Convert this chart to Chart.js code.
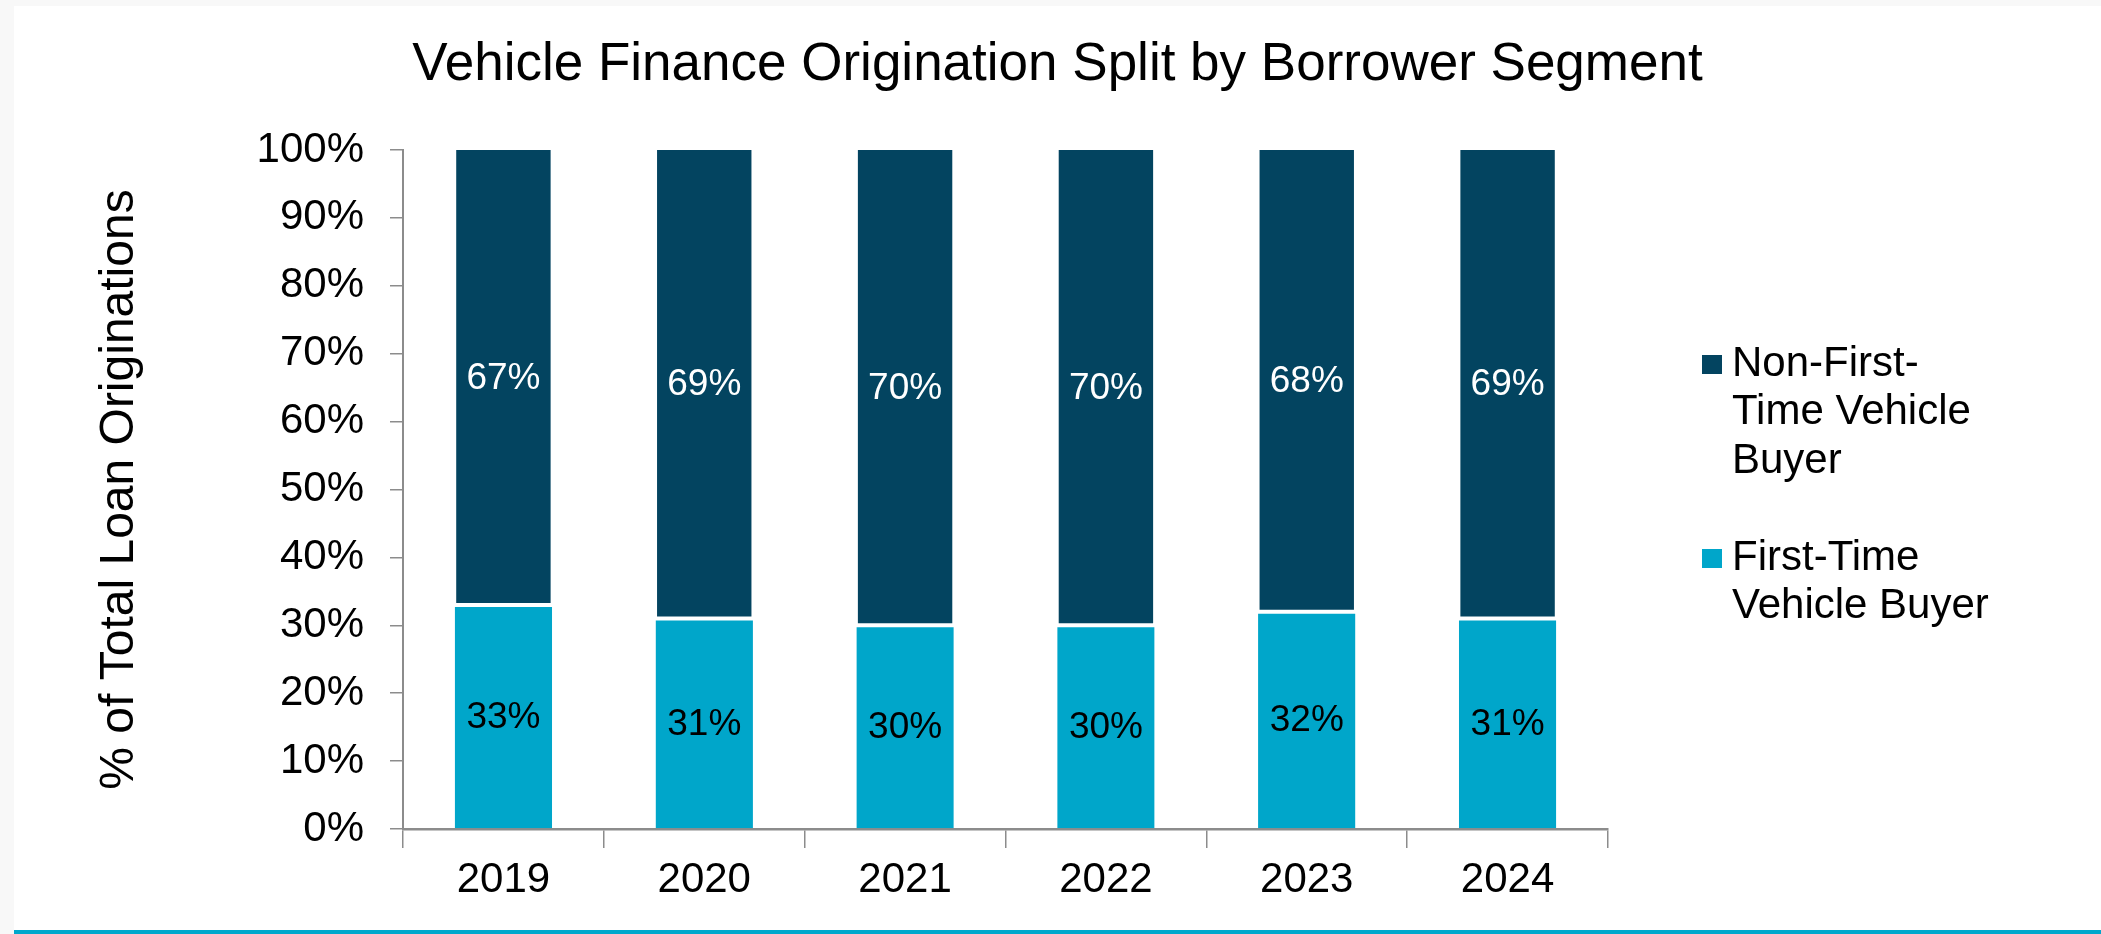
<!DOCTYPE html>
<html>
<head>
<meta charset="utf-8">
<script src="https://cdn.jsdelivr.net/npm/chart.js@4.4.1/dist/chart.umd.min.js"></script>
<style>
  html, body { margin: 0; padding: 0; background: #fff; }
  #page { position: relative; width: 2101px; height: 934px; background: #f8f8f8; overflow: hidden; }
  #panel { position: absolute; left: 14px; top: 6px; width: 2087px; height: 924px; background: #fff; }
  #rule { position: absolute; left: 14px; top: 930px; width: 2087px; height: 4px; background: #00a8cc; }
  canvas { display: block; }
</style>
</head>
<body>
<div id="page">
  <div id="panel"><canvas id="split" width="2087" height="924"></canvas></div>
  <div id="rule"></div>
</div>
<script>
const years = ['2019', '2020', '2021', '2022', '2023', '2024'];
const firstTime = [33, 31, 30, 30, 32, 31];
const nonFirstTime = [67, 69, 70, 70, 68, 69];
const firstTimeName = ['First-Time', 'Vehicle Buyer'];
const nonFirstTimeName = ['Non-First-', 'Time Vehicle', 'Buyer'];
const percentTicks = [0, 10, 20, 30, 40, 50, 60, 70, 80, 90, 100];

const FONT = "'Liberation Sans', Arial, sans-serif";
const AXIS_GREY = '#8c8c8c';
const LEGEND_W = 493;

Chart.defaults.font.family = FONT;
Chart.defaults.color = '#000';

// value labels in the middle of every bar segment
const segmentLabels = {
  id: 'segmentLabels',
  afterDatasetsDraw(chart) {
    const ctx = chart.ctx;
    ctx.save();
    ctx.font = '37px ' + FONT;
    ctx.textAlign = 'center';
    ctx.textBaseline = 'middle';
    chart.data.datasets.forEach((ds, i) => {
      chart.getDatasetMeta(i).data.forEach((bar, j) => {
        ctx.fillStyle = ds.labelColor;
        ctx.fillText(ds.data[j] + '%', bar.x, (bar.y + bar.base) / 2 + 1);
      });
    });
    ctx.restore();
  }
};

// legend on the right, as its own layout box so the title still spans the full width
const sideLegend = {
  id: 'sideLegend',
  beforeInit(chart) {
    const box = {
      position: 'right',
      weight: 10,
      fullSize: false,
      options: {},
      isHorizontal() { return false; },
      update(maxWidth, maxHeight) {
        this.width = LEGEND_W;
        this.height = maxHeight;
      },
      draw() {
        const ctx = chart.ctx;
        const area = chart.chartArea;
        const lineH = 48.5;
        const top = (area.top + area.bottom) / 2 - 125.5;
        let line = 0;
        ctx.save();
        ctx.font = '42px ' + FONT;
        ctx.textAlign = 'left';
        ctx.textBaseline = 'middle';
        chart.data.datasets.slice().reverse().forEach(ds => {
          const y = top + line * lineH;
          ctx.fillStyle = ds.backgroundColor;
          ctx.fillRect(this.left + 94, y - 9, 20, 19);
          ctx.fillStyle = '#000';
          ds.label.forEach(t => {
            ctx.fillText(t, this.left + 124, top + line * lineH);
            line++;
          });
          line++;
        });
        ctx.restore();
      }
    };
    Chart.layouts.addBox(chart, box);
  }
};

new Chart(document.getElementById('split'), {
  type: 'bar',
  data: {
    labels: years,
    datasets: [
      {
        label: firstTimeName,
        data: firstTime,
        backgroundColor: '#00a6ca',
        borderColor: '#ffffff',
        borderWidth: { top: 2, left: 0, right: 0, bottom: 0 },
        borderSkipped: false,
        labelColor: '#000000'
      },
      {
        label: nonFirstTimeName,
        data: nonFirstTime,
        backgroundColor: '#034460',
        borderColor: '#ffffff',
        borderWidth: { top: 0, left: 1.5, right: 1.5, bottom: 2 },
        borderSkipped: false,
        labelColor: '#ffffff'
      }
    ]
  },
  options: {
    responsive: false,
    animation: false,
    events: [],
    layout: { padding: 0 },
    datasets: {
      bar: { barPercentage: 0.485, categoryPercentage: 1 }
    },
    plugins: {
      legend: { display: false },
      tooltip: { enabled: false },
      title: {
        display: true,
        text: 'Vehicle Finance Origination Split by Borrower Segment',
        color: '#000',
        font: { size: 53, weight: 'normal' },
        padding: { top: 28, bottom: 52.4 }
      }
    },
    scales: {
      x: {
        stacked: true,
        grid: { display: true, drawOnChartArea: false, offset: true, tickLength: 19, color: AXIS_GREY, lineWidth: 1.5 },
        border: { display: true, color: AXIS_GREY, width: 2.5 },
        ticks: { font: { size: 42 }, color: '#000', padding: 7, maxRotation: 0 },
        afterFit(scale) { scale.height = 101; }
      },
      y: {
        stacked: true,
        min: 0,
        max: 100,
        afterBuildTicks(scale) { scale.ticks = percentTicks.map(v => ({ value: v })); },
        grid: { display: true, drawOnChartArea: false, tickLength: 13, color: AXIS_GREY, lineWidth: 1.5 },
        border: { display: true, color: AXIS_GREY, width: 2 },
        ticks: { font: { size: 42 }, color: '#000', padding: 26, callback: v => v + '%' },
        title: {
          display: true,
          text: '% of Total Loan Originations',
          color: '#000',
          font: { size: 48 },
          padding: { top: 77, bottom: 0 }
        },
        afterFit(scale) { scale.width = 389; }
      }
    }
  },
  plugins: [segmentLabels, sideLegend]
});
</script>
</body>
</html>
